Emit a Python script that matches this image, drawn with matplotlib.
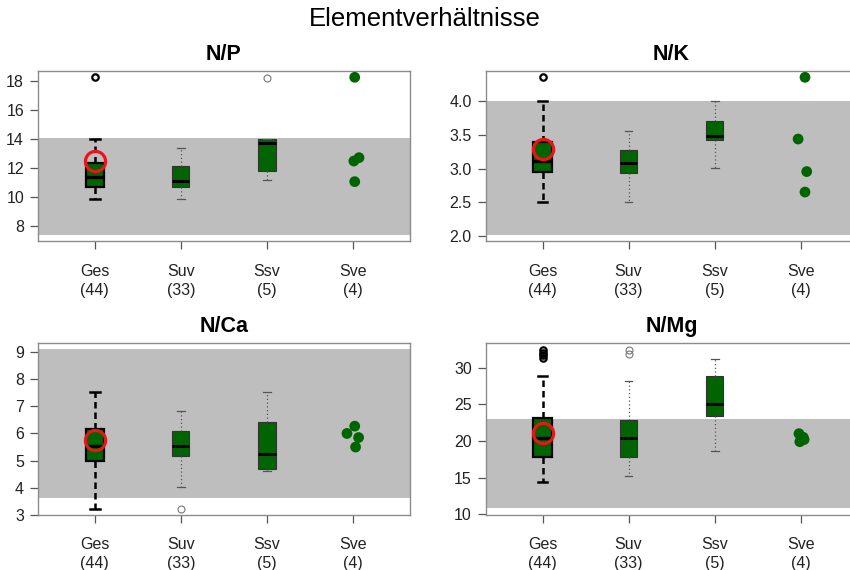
import matplotlib
matplotlib.use("Agg")
import matplotlib.pyplot as plt
from matplotlib.ticker import FormatStrFormatter

plt.rcParams['font.family'] = ['Liberation Sans', 'DejaVu Sans']

groups = ["Ges", "Suv", "Ssv", "Sve"]
counts = [44, 33, 5, 4]
panel_titles = ["N/P", "N/K", "N/Ca", "N/Mg"]

# box statistics per ratio: [whisker low, Q1, median, Q3, whisker high]
np_ges = [9.84, 10.68, 11.35, 12.33, 13.99]
np_suv = [9.84, 10.65, 11.07, 12.15, 13.35]
np_ssv = [11.17, 11.75, 13.73, 13.99, 13.99]
nk_ges = [2.50, 2.95, 3.12, 3.40, 4.01]
nk_suv = [2.50, 2.93, 3.09, 3.28, 3.56]
nk_ssv = [3.01, 3.43, 3.48, 3.71, 4.01]
nca_ges = [3.23, 4.97, 5.54, 6.16, 7.54]
nca_suv = [4.01, 5.16, 5.52, 6.09, 6.84]
nca_ssv = [4.61, 4.70, 5.23, 6.42, 7.53]
nmg_ges = [14.42, 17.85, 20.37, 23.10, 28.95]
nmg_suv = [15.25, 17.77, 20.45, 22.88, 28.18]
nmg_ssv = [18.67, 23.42, 25.07, 28.95, 31.23]

# outliers
np_fliers = [[18.23], [], [18.20]]
nk_fliers = [[4.36], [], []]
nca_fliers = [[], [3.23], []]
nmg_fliers = [[32.5, 32.1, 31.7, 31.3], [32.4, 31.9], []]

# mean of all samples (Ges)
ges_means = [12.49, 3.29, 5.75, 21.14]

# single values of the Sve group
sve_np = [18.23, 12.47, 12.70, 11.05]
sve_nk = [4.36, 3.44, 2.955, 2.65]
sve_nca = [6.27, 6.00, 5.85, 5.50]
sve_nmg = [21.0, 20.5, 20.2, 19.9]
sve_jitter = [[0.02, 0.01, 0.07, 0.02],
              [0.05, -0.03, 0.07, 0.05],
              [0.02, -0.07, 0.065, 0.03],
              [-0.02, 0.03, 0.04, -0.01]]

# optimum ranges (grey band)
bands = [(7.38, 14.08), (2.01, 4.00), (3.61, 9.11), (10.78, 23.0)]

yticks = [[8, 10, 12, 14, 16, 18],
          [2.0, 2.5, 3.0, 3.5, 4.0],
          [3, 4, 5, 6, 7, 8, 9],
          [10, 15, 20, 25, 30]]
yfmt = ["%d", "%.1f", "%d", "%d"]

boxes = [[np_ges, np_suv, np_ssv], [nk_ges, nk_suv, nk_ssv],
         [nca_ges, nca_suv, nca_ssv], [nmg_ges, nmg_suv, nmg_ssv]]
fliers = [np_fliers, nk_fliers, nca_fliers, nmg_fliers]
sve_vals = [sve_np, sve_nk, sve_nca, sve_nmg]

GREEN = "#006400"
BAND = "#bebebe"
FRAME = "#8c8c8c"

fig = plt.figure(figsize=(8.5, 5.7), dpi=100)
fig.text(0.5, 0.966, "Elementverhältnisse", ha="center", va="center", fontsize=18.5)

W, H = 850.0, 570.0
lefts = [38.0, 485.7, 38.0, 485.7]
tops = [71.0, 71.0, 342.7, 343.3]
bottoms = [241.3, 241.3, 515.0, 514.7]
width_px = 371.8

for i in range(4):
    ax = fig.add_axes([lefts[i] / W, 1 - bottoms[i] / H,
                       width_px / W, (bottoms[i] - tops[i]) / H])
    lo_b, hi_b = bands[i]
    ax.axhspan(lo_b, hi_b, color=BAND, lw=0, zorder=0)

    stats = []
    for j, s in enumerate(boxes[i]):
        stats.append(dict(whislo=s[0], q1=s[1], med=s[2], q3=s[3], whishi=s[4],
                          fliers=fliers[i][j], label=groups[j]))

    # Ges box: bold black outline and dashed whiskers
    ax.bxp([stats[0]], positions=[1], widths=0.21, patch_artist=True,
           showfliers=True, capwidths=[0.11],
           boxprops=dict(facecolor=GREEN, edgecolor="black", linewidth=1.6),
           medianprops=dict(color="black", linewidth=2.4),
           whiskerprops=dict(color="black", linewidth=1.8, linestyle=(0, (2.6, 1.6))),
           capprops=dict(color="black", linewidth=1.8),
           flierprops=dict(marker="o", markerfacecolor="none", markeredgecolor="black",
                           markersize=4.6, markeredgewidth=1.6),
           zorder=3)
    # Suv and Ssv boxes: thin outline, dotted grey whiskers
    ax.bxp(stats[1:], positions=[2, 3], widths=0.2, patch_artist=True,
           showfliers=True, capwidths=[0.09, 0.09],
           boxprops=dict(facecolor=GREEN, edgecolor="#333333", linewidth=0.8),
           medianprops=dict(color="black", linewidth=2.2),
           whiskerprops=dict(color="#555555", linewidth=0.9, linestyle=(0, (1, 2))),
           capprops=dict(color="#555555", linewidth=0.9),
           flierprops=dict(marker="o", markerfacecolor="none", markeredgecolor="#777777",
                           markersize=5, markeredgewidth=0.8),
           zorder=3)

    # mean of all samples
    ax.plot([1], [ges_means[i]], marker="o", markersize=14.5, markerfacecolor="none",
            markeredgecolor="#e8151b", markeredgewidth=2.3, linestyle="none", zorder=5)

    # Sve single values
    xs = [4 + d for d in sve_jitter[i]]
    ax.scatter(xs, sve_vals[i], s=60, color=GREEN, edgecolor="none", zorder=4)

    # axis limits with 4 % padding
    vals = [lo_b, hi_b] + sve_vals[i] + [v for s in boxes[i] for v in s] + \
        [v for f in fliers[i] for v in f]
    lo, hi = min(vals), max(vals)
    pad = 0.04 * (hi - lo)
    ax.set_ylim(lo - pad, hi + pad)
    ax.set_xlim(0.34, 4.66)

    ax.set_yticks(yticks[i])
    ax.yaxis.set_major_formatter(FormatStrFormatter(yfmt[i]))
    ax.set_xticks([1, 2, 3, 4])
    ax.set_xticklabels([f"{g}\n({n})" for g, n in zip(groups, counts)],
                       linespacing=1.35)
    ax.tick_params(axis="both", colors="#555555", labelcolor="#222222",
                   labelsize=11.5, length=6, width=0.9, direction="out")
    ax.tick_params(axis="x", pad=10)
    ax.tick_params(axis="y", pad=4)
    for sp in ax.spines.values():
        sp.set_color(FRAME)
        sp.set_linewidth(1.0)
    ax.set_title(panel_titles[i], fontsize=15.5, fontweight="bold", pad=8)

fig.savefig("out.png", dpi=100)
